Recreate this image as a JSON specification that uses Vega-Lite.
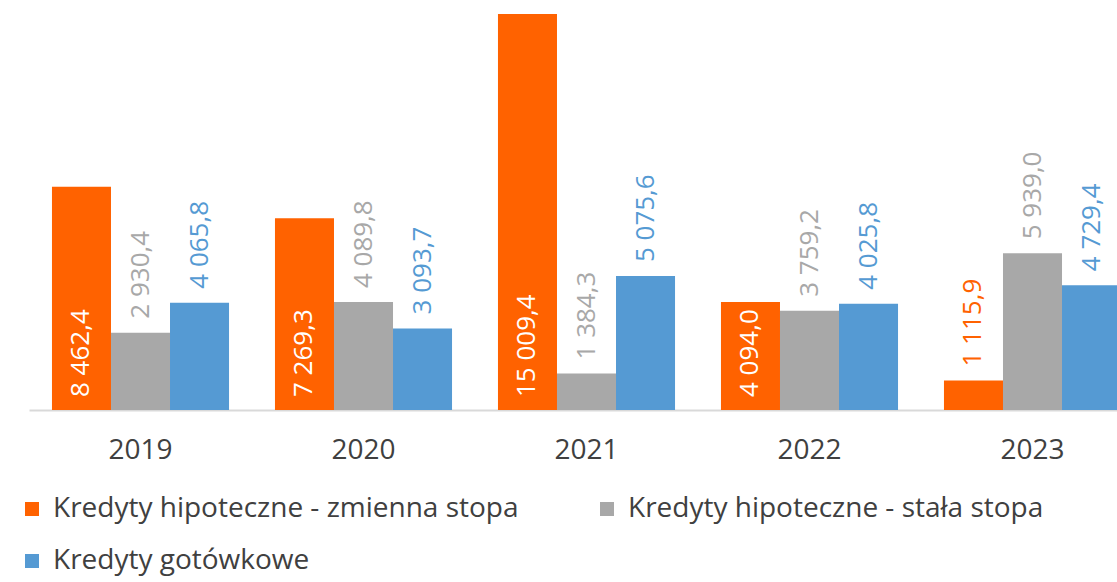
{
  "$schema": "https://vega.github.io/schema/vega-lite/v6.json",
  "width": 1088,
  "height": 410,
  "autosize": "none",
  "padding": {"left": 29, "top": 0, "right": 0, "bottom": 172},
  "data": {
    "values": [
      {"rok": "2019", "seria": "Kredyty hipoteczne - zmienna stopa", "wartosc": 8462.4},
      {"rok": "2019", "seria": "Kredyty hipoteczne - stała stopa", "wartosc": 2930.4},
      {"rok": "2019", "seria": "Kredyty gotówkowe", "wartosc": 4065.8},
      {"rok": "2020", "seria": "Kredyty hipoteczne - zmienna stopa", "wartosc": 7269.3},
      {"rok": "2020", "seria": "Kredyty hipoteczne - stała stopa", "wartosc": 4089.8},
      {"rok": "2020", "seria": "Kredyty gotówkowe", "wartosc": 3093.7},
      {"rok": "2021", "seria": "Kredyty hipoteczne - zmienna stopa", "wartosc": 15009.4},
      {"rok": "2021", "seria": "Kredyty hipoteczne - stała stopa", "wartosc": 1384.3},
      {"rok": "2021", "seria": "Kredyty gotówkowe", "wartosc": 5075.6},
      {"rok": "2022", "seria": "Kredyty hipoteczne - zmienna stopa", "wartosc": 4094.0},
      {"rok": "2022", "seria": "Kredyty hipoteczne - stała stopa", "wartosc": 3759.2},
      {"rok": "2022", "seria": "Kredyty gotówkowe", "wartosc": 4025.8},
      {"rok": "2023", "seria": "Kredyty hipoteczne - zmienna stopa", "wartosc": 1115.9},
      {"rok": "2023", "seria": "Kredyty hipoteczne - stała stopa", "wartosc": 5939.0},
      {"rok": "2023", "seria": "Kredyty gotówkowe", "wartosc": 4729.4}
    ]
  },
  "encoding": {
    "x": {
      "field": "rok",
      "type": "nominal",
      "title": null,
      "scale": {"range": [0, 1115], "paddingInner": 0.206, "paddingOuter": 0.103},
      "axis": {"labelAngle": 0}
    },
    "xOffset": {
      "field": "seria",
      "type": "nominal",
      "sort": ["Kredyty hipoteczne - zmienna stopa", "Kredyty hipoteczne - stała stopa", "Kredyty gotówkowe"],
      "scale": {"paddingInner": 0, "paddingOuter": 0}
    }
  },
  "layer": [
    {
      "mark": {"type": "bar"},
      "encoding": {
        "y": {"field": "wartosc", "type": "quantitative", "scale": {"domain": [0, 15542], "nice": false}, "axis": null},
        "color": {
          "field": "seria",
          "type": "nominal",
          "sort": ["Kredyty hipoteczne - zmienna stopa", "Kredyty hipoteczne - stała stopa", "Kredyty gotówkowe"],
          "scale": {
            "domain": ["Kredyty hipoteczne - zmienna stopa", "Kredyty hipoteczne - stała stopa", "Kredyty gotówkowe"],
            "range": ["#FF6200", "#A8A8A8", "#559AD3"]
          },
          "legend": {
            "title": null,
            "orient": "none",
            "legendX": -11,
            "legendY": 495,
            "direction": "horizontal",
            "columns": 2,
            "columnPadding": 74,
            "rowPadding": 24,
            "symbolType": "square",
            "symbolSize": 196,
            "symbolStrokeWidth": 0,
            "labelOffset": 7,
            "labelFontSize": 28,
            "labelFont": "Open Sans",
            "labelColor": "#404040",
            "labelLimit": 0
          }
        }
      }
    },
    {
      "transform": [{"filter": "datum.seria === 'Kredyty hipoteczne - zmienna stopa' && datum.wartosc > 2000"}],
      "mark": {"type": "text", "angle": 270, "align": "left", "baseline": "middle", "dx": 13, "fontSize": 26, "font": "Open Sans", "color": "#FFFFFF"},
      "encoding": {
        "y": {"datum": 0, "type": "quantitative"},
        "text": {"field": "wartosc", "type": "quantitative", "format": ",.1f"}
      }
    },
    {
      "transform": [{"filter": "!(datum.seria === 'Kredyty hipoteczne - zmienna stopa' && datum.wartosc > 2000)"}],
      "mark": {"type": "text", "angle": 270, "align": "left", "baseline": "middle", "dx": 14, "fontSize": 26, "font": "Open Sans"},
      "encoding": {
        "y": {"field": "wartosc", "type": "quantitative"},
        "text": {"field": "wartosc", "type": "quantitative", "format": ",.1f"},
        "color": {"field": "seria", "type": "nominal"}
      }
    }
  ],
  "config": {
    "locale": {"number": {"decimal": ",", "thousands": " ", "grouping": [3], "currency": ["", " zł"]}},
    "view": {"stroke": null},
    "axis": {
      "domainColor": "#D9D9D9",
      "domainWidth": 2,
      "ticks": false,
      "grid": false,
      "labelFontSize": 28,
      "labelFont": "Open Sans",
      "labelColor": "#404040",
      "labelPadding": 26
    }
  }
}
